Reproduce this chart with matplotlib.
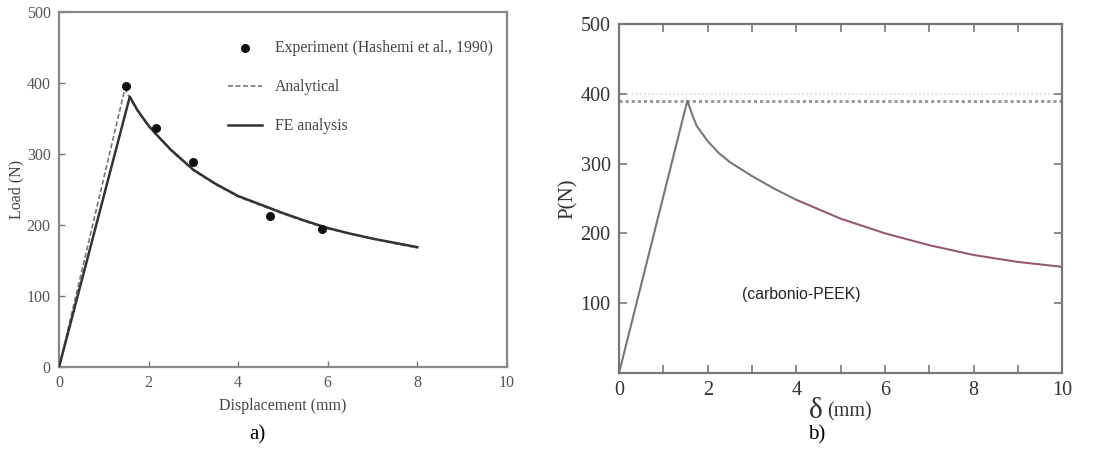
import matplotlib.pyplot as plt

# panel a) data
exp_x = [1.5, 2.17, 3.0, 4.72, 5.87]
exp_y = [396, 337, 289, 213, 195]

fe_x = [0, 1.58, 1.75, 2.0, 2.17, 2.5, 3.0, 3.5, 4.0, 4.5, 5.0, 5.5, 6.0, 6.5, 7.0, 7.5, 8.0]
fe_y = [0, 381, 362, 340, 328, 306, 278, 258, 241, 229, 217, 206, 196, 188, 181, 175, 169]

ana_x = [0, 1.47, 1.6, 1.75, 2.0, 2.5, 3.0, 3.5, 4.0, 4.5, 5.0, 5.5, 6.0, 6.5, 7.0, 7.5, 8.0]
ana_y = [0, 392, 377, 361, 339, 305, 277, 257, 240, 228, 216, 205, 195, 188, 181, 174, 168]

# panel b) data
b_x = [0, 1.54, 1.65, 1.75, 2.0, 2.25, 2.5, 3.0, 3.5, 4.0, 5.0, 6.0, 7.0, 8.0, 9.0, 10.0]
b_y = [0, 390, 370, 354, 332, 315, 302, 282, 264, 248, 221, 200, 183, 169, 159, 152]
b_red_x = [4.0, 5.0, 6.0, 7.0, 8.0, 9.0, 10.0]
b_red_y = [248, 221, 200, 183, 169, 159, 152]
p_max = 390

serif = ['Liberation Serif', 'DejaVu Serif']

fig = plt.figure(figsize=(11.14, 4.51), dpi=100)

# ---- a)
ax1 = fig.add_axes([0.053, 0.186, 0.402, 0.787])
ax1.plot(ana_x, ana_y, color='#777777', lw=1.2, ls=(0, (3, 1.5)), label='Analytical', zorder=2)
ax1.plot(fe_x, fe_y, color='#333333', lw=1.8, label='FE analysis', zorder=3)
ax1.scatter(exp_x, exp_y, s=30, color='#111111', zorder=4, label='Experiment (Hashemi et al., 1990)')
ax1.set_xlim(0, 10)
ax1.set_ylim(0, 500)
ax1.set_xticks([0, 2, 4, 6, 8, 10])
ax1.set_yticks([0, 100, 200, 300, 400, 500])
ax1.tick_params(direction='in', length=4, width=1, colors='#777777', labelcolor='#555555',
                labelsize=11.5, pad=6)
for lab in ax1.get_xticklabels() + ax1.get_yticklabels():
    lab.set_family(serif)
for s in ax1.spines.values():
    s.set_color('#888888')
    s.set_linewidth(1.6)
ax1.set_xlabel('Displacement (mm)', family=serif, fontsize=11.5, color='#444444', labelpad=5)
ax1.set_ylabel('Load (N)', family=serif, fontsize=11.5, color='#444444', labelpad=2)

h, l = ax1.get_legend_handles_labels()
order = [2, 0, 1]
ax1.legend([h[i] for i in order], [l[i] for i in order], loc='upper right',
           bbox_to_anchor=(1.0, 0.96), frameon=False, prop={'family': serif, 'size': 11.3},
           labelcolor='#444444', handlelength=2.2, labelspacing=1.45, handletextpad=0.8)

fig.text(0.231, 0.025, 'a)', family=serif, fontsize=15, ha='center')

# ---- b)
ax2 = fig.add_axes([0.5557, 0.173, 0.398, 0.774])
ax2.axhline(p_max, color='#999999', lw=2.2, ls=(0, (1, 1)), zorder=1)
ax2.axhline(p_max + 10, color='#dddddd', lw=1.2, ls=(0, (1, 1.5)), zorder=1)
ax2.plot(b_x, b_y, color='#777777', lw=1.5, zorder=3)
ax2.plot(b_red_x, b_red_y, color='#c0405a', lw=0.8, alpha=0.8, zorder=4)
ax2.text(4.12, 112, '(carbonio-PEEK)', ha='center', va='center', fontsize=11.3,
         family=['Liberation Sans', 'DejaVu Sans'], color='#222222')
ax2.set_xlim(0, 10)
ax2.set_ylim(0, 500)
ax2.set_xticks(range(0, 11))
ax2.set_xticklabels(['0', '', '2', '', '4', '', '6', '', '8', '', '10'])
ax2.set_yticks([100, 200, 300, 400, 500])
ax2.tick_params(direction='in', length=6, width=1.2, colors='#777777', labelcolor='#333333',
                labelsize=14.5, top=True, right=True, pad=6)
for lab in ax2.get_xticklabels() + ax2.get_yticklabels():
    lab.set_family(serif)
for s in ax2.spines.values():
    s.set_color('#777777')
    s.set_linewidth(1.6)
# x label drawn as two texts: big delta + smaller unit
ax2.text(0.444, -0.108, 'δ', transform=ax2.transAxes, family=serif, fontsize=21,
         color='#333333', ha='center', va='center')
ax2.text(0.52, -0.112, '(mm)', transform=ax2.transAxes, family=serif, fontsize=14.5,
         color='#333333', ha='center', va='center')
ax2.set_ylabel('P(N)', family=serif, fontsize=15, color='#333333', labelpad=2)

fig.text(0.733, 0.025, 'b)', family=serif, fontsize=15, ha='center')

fig.savefig('out.png', dpi=100)
